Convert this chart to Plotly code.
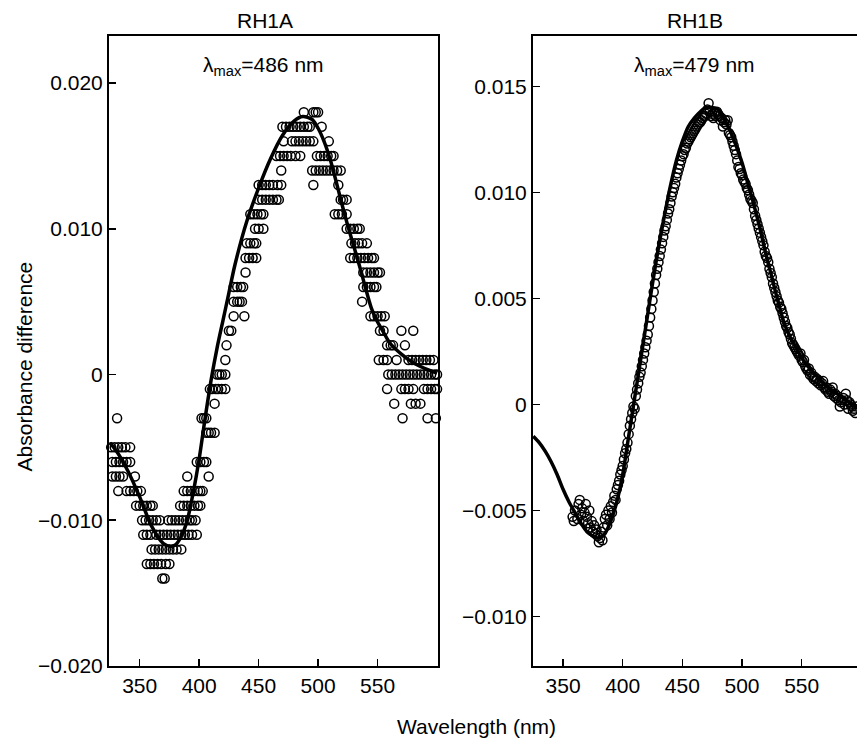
import plotly.graph_objects as go

# ---------------- RH1A : measured points (wavelength nm, absorbance difference) ----------------
rh1a_wl = [
    488, 496, 498, 500,
    470, 473, 476, 479, 482, 485, 488, 491, 493, 503,
    471, 478, 481, 484, 487, 490, 493, 496, 509,
    465, 468, 471, 474, 477, 481, 485, 499, 502, 505, 508, 511, 513,
    469, 495, 498, 501, 504, 507, 510, 513, 516, 519,
    450, 453, 456, 459, 462, 466, 469, 496, 517,
    450, 453, 456, 459, 462, 465, 467, 519, 521, 524,
    443, 446, 449, 452, 454, 514, 517, 520, 524,
    447, 450, 454, 524, 527, 530, 533, 535,
    440, 443, 446, 448, 528, 531, 534, 537, 541,
    439, 442, 445, 448, 527, 530, 533, 536, 539, 542, 545, 547,
    439, 538, 541, 544, 547, 550, 552,
    429, 432, 435, 437, 538, 541, 544, 547, 549,
    429, 432, 434, 436, 537,
    429, 438, 544, 547, 550, 553, 556,
    425, 427, 552, 555, 570, 580,
    423, 558, 561, 563, 573,
    422, 551, 555, 558, 566, 576, 579, 582, 585, 588, 591, 594, 597,
    415, 417, 419, 422, 559, 562, 565, 568, 571, 574, 577, 580, 583, 586, 589, 592, 595, 598, 600,
    409, 411, 414, 416, 419, 422, 558, 570, 573, 576, 580, 589, 592, 595, 598, 600,
    413, 564, 578, 582, 586,
    331, 402, 404, 406, 571, 592, 599,
    406, 408, 410, 413,
    326, 329, 332, 335, 338, 342,
    324, 327, 330, 333, 336, 339, 342, 398, 401, 404, 406,
    324, 327, 330, 333, 336, 346, 390, 408,
    332, 339, 342, 345, 348, 351, 387, 390, 393, 396, 399, 401, 403,
    347, 350, 353, 356, 359, 361, 384, 387, 390, 393, 396, 399, 401,
    352, 355, 358, 361, 364, 367, 374, 377, 380, 383, 386, 389, 392, 394, 397,
    353, 356, 359, 364, 367, 370, 373, 376, 379, 382, 385, 388, 391, 394, 398,
    360, 363, 366, 369, 372, 375, 378, 381, 385,
    356, 359, 362, 365, 368, 372, 375,
    369, 371,
]
rh1a_abs = [
    0.018, 0.018, 0.018, 0.018,
    0.017, 0.017, 0.017, 0.017, 0.017, 0.017, 0.017, 0.017, 0.017, 0.017,
    0.016, 0.016, 0.016, 0.016, 0.016, 0.016, 0.016, 0.016, 0.016,
    0.015, 0.015, 0.015, 0.015, 0.015, 0.015, 0.015, 0.015, 0.015, 0.015, 0.015, 0.015, 0.015,
    0.014, 0.014, 0.014, 0.014, 0.014, 0.014, 0.014, 0.014, 0.014, 0.014,
    0.013, 0.013, 0.013, 0.013, 0.013, 0.013, 0.013, 0.013, 0.013,
    0.012, 0.012, 0.012, 0.012, 0.012, 0.012, 0.012, 0.012, 0.012, 0.012,
    0.011, 0.011, 0.011, 0.011, 0.011, 0.011, 0.011, 0.011, 0.011,
    0.010, 0.010, 0.010, 0.010, 0.010, 0.010, 0.010, 0.010,
    0.009, 0.009, 0.009, 0.009, 0.009, 0.009, 0.009, 0.009, 0.009,
    0.008, 0.008, 0.008, 0.008, 0.008, 0.008, 0.008, 0.008, 0.008, 0.008, 0.008, 0.008,
    0.007, 0.007, 0.007, 0.007, 0.007, 0.007, 0.007,
    0.006, 0.006, 0.006, 0.006, 0.006, 0.006, 0.006, 0.006, 0.006,
    0.005, 0.005, 0.005, 0.005, 0.005,
    0.004, 0.004, 0.004, 0.004, 0.004, 0.004, 0.004,
    0.003, 0.003, 0.003, 0.003, 0.003, 0.003,
    0.002, 0.002, 0.002, 0.002, 0.002,
    0.001, 0.001, 0.001, 0.001, 0.001, 0.001, 0.001, 0.001, 0.001, 0.001, 0.001, 0.001, 0.001,
    0.0, 0.0, 0.0, 0.0, 0.0, 0.0, 0.0, 0.0, 0.0, 0.0, 0.0, 0.0, 0.0, 0.0, 0.0, 0.0, 0.0, 0.0, 0.0,
    -0.001, -0.001, -0.001, -0.001, -0.001, -0.001, -0.001, -0.001, -0.001, -0.001, -0.001, -0.001, -0.001, -0.001, -0.001, -0.001,
    -0.002, -0.002, -0.002, -0.002, -0.002,
    -0.003, -0.003, -0.003, -0.003, -0.003, -0.003, -0.003,
    -0.004, -0.004, -0.004, -0.004,
    -0.005, -0.005, -0.005, -0.005, -0.005, -0.005,
    -0.006, -0.006, -0.006, -0.006, -0.006, -0.006, -0.006, -0.006, -0.006, -0.006, -0.006,
    -0.007, -0.007, -0.007, -0.007, -0.007, -0.007, -0.007, -0.007,
    -0.008, -0.008, -0.008, -0.008, -0.008, -0.008, -0.008, -0.008, -0.008, -0.008, -0.008, -0.008, -0.008,
    -0.009, -0.009, -0.009, -0.009, -0.009, -0.009, -0.009, -0.009, -0.009, -0.009, -0.009, -0.009, -0.009,
    -0.010, -0.010, -0.010, -0.010, -0.010, -0.010, -0.010, -0.010, -0.010, -0.010, -0.010, -0.010, -0.010, -0.010, -0.010,
    -0.011, -0.011, -0.011, -0.011, -0.011, -0.011, -0.011, -0.011, -0.011, -0.011, -0.011, -0.011, -0.011, -0.011, -0.011,
    -0.012, -0.012, -0.012, -0.012, -0.012, -0.012, -0.012, -0.012, -0.012,
    -0.013, -0.013, -0.013, -0.013, -0.013, -0.013, -0.013,
    -0.014, -0.014,
]

# ---------------- RH1A : fitted template curve ----------------
rh1a_fit_wl = [325, 330, 340, 350, 360, 370, 376, 380, 385, 390, 395, 400, 405, 410,
               415, 420, 425, 430, 440, 450, 460, 470, 480, 487, 495, 500, 505, 510,
               515, 520, 525, 530, 535, 540, 545, 550, 555, 560, 570, 580, 590, 600]
rh1a_fit_abs = [-0.0047, -0.0052, -0.0066, -0.0084, -0.0104, -0.0116, -0.0118, -0.0117,
                -0.0111, -0.0100, -0.0081, -0.0058, -0.0030, -0.0004, 0.0018, 0.0037,
                0.0056, 0.0075, 0.0105, 0.0128, 0.0148, 0.0164, 0.0174, 0.0177, 0.0175,
                0.0169, 0.0160, 0.0148, 0.0133, 0.0117, 0.0102, 0.0088, 0.0074, 0.0059,
                0.0045, 0.0036, 0.0029, 0.0022, 0.0014, 0.0008, 0.0004, 0.0001]

# ---------------- RH1B : measured points ----------------
rh1b_wl = [
    358, 359, 360, 362, 363, 364, 365, 366, 367, 368, 369, 370, 371, 372, 373, 374,
    375, 376, 377, 378, 379, 380, 381, 382, 383, 384, 385, 386, 387, 388, 389, 390,
    391, 392, 393, 394, 395, 396, 397, 398, 399, 400, 401, 402, 403, 404, 405, 406,
    407, 408, 409, 410, 411, 412, 413, 414, 415, 416, 417, 418, 419, 420, 421, 422,
    423, 424, 425, 426, 427, 428, 429, 430, 431, 432, 433, 434, 435, 436, 437, 438,
    439, 440, 441, 442, 443, 444, 445, 446, 447, 448, 449, 450, 451, 452, 453, 454,
    455, 456, 457, 458, 459, 460, 461, 462, 463, 464, 465, 466, 467, 468, 469, 470,
    471, 472, 473, 474, 475, 476, 477, 478, 479, 480, 481, 482, 483, 484, 485, 486,
    487, 488, 489, 490, 491, 492, 493, 494, 495, 496, 497, 498, 499, 500, 501, 502,
    503, 504, 505, 506, 507, 508, 509, 510, 511, 512, 513, 514, 515, 516, 517, 518,
    519, 520, 521, 522, 523, 524, 525, 526, 527, 528, 529, 530, 531, 532, 533, 534,
    535, 536, 537, 538, 539, 540, 541, 542, 543, 544, 545, 546, 547, 548, 549, 550,
    551, 552, 553, 554, 555, 556, 557, 558, 559, 560, 561, 562, 563, 564, 565, 566,
    567, 568, 569, 570, 571, 572, 573, 574, 575, 576, 577, 578, 579, 580, 581, 582,
    583, 584, 585, 586, 587, 588, 589, 590, 591, 592, 593, 594, 595, 596, 597,
]
rh1b_abs = [
    -0.0053, -0.0055, -0.0050, -0.0054, -0.0047, -0.0045, -0.0052, -0.0049,
    -0.0055, -0.0051, -0.0047, -0.0053, -0.0056, -0.0050, -0.0058, -0.0055,
    -0.0060, -0.0057, -0.0061, -0.0059, -0.0062, -0.0065, -0.0063, -0.0060,
    -0.0064, -0.0058, -0.0054, -0.0052, -0.0057, -0.0050, -0.0054, -0.0048,
    -0.0051, -0.0046, -0.0043, -0.0045, -0.0040, -0.0038, -0.0036, -0.0033,
    -0.0031, -0.0029, -0.0026, -0.0023, -0.0021, -0.0018, -0.0014, -0.0010,
    -0.0007, -0.0004, -0.0001, -0.0002, 0.0004, 0.0007, 0.0010, 0.0013,
    0.0015, 0.0018, 0.0021, 0.0024, 0.0027, 0.0030, 0.0033, 0.0037,
    0.0041, 0.0045, 0.0049, 0.0053, 0.0057, 0.0061, 0.0064, 0.0067,
    0.0070, 0.0073, 0.0076, 0.0079, 0.0082, 0.0084, 0.0087, 0.0090,
    0.0092, 0.0095, 0.0098, 0.0100, 0.0102, 0.0104, 0.0107, 0.0109,
    0.0111, 0.0113, 0.0115, 0.0117, 0.0118, 0.0120, 0.0121, 0.0123,
    0.0124, 0.0125, 0.0126, 0.0127, 0.0128, 0.0129, 0.0130, 0.0131,
    0.0132, 0.0133, 0.0133, 0.0134, 0.0135, 0.0136, 0.0136, 0.0137,
    0.0139, 0.0142, 0.0138, 0.0136, 0.0137, 0.0135, 0.0138, 0.0136,
    0.0138, 0.0137, 0.0136, 0.0134, 0.0135, 0.0131, 0.0133, 0.0134,
    0.0132, 0.0134, 0.0128, 0.0127, 0.0126, 0.0124, 0.0122, 0.0120,
    0.0118, 0.0115, 0.0112, 0.0111, 0.0109, 0.0108, 0.0106, 0.0105,
    0.0104, 0.0102, 0.0101, 0.0099, 0.0097, 0.0096, 0.0095, 0.0092,
    0.0089, 0.0087, 0.0085, 0.0083, 0.0081, 0.0079, 0.0077, 0.0075,
    0.0072, 0.0070, 0.0069, 0.0067, 0.0064, 0.0062, 0.0060, 0.0057,
    0.0055, 0.0053, 0.0051, 0.0049, 0.0048, 0.0046, 0.0045, 0.0043,
    0.0041, 0.0039, 0.0037, 0.0036, 0.0034, 0.0033, 0.0031, 0.0029,
    0.0028, 0.0027, 0.0026, 0.0025, 0.0024, 0.0023, 0.0024, 0.0021,
    0.0020, 0.0021, 0.0018, 0.0017, 0.0016, 0.0017, 0.0014, 0.0015,
    0.0013, 0.0012, 0.0013, 0.0011, 0.0012, 0.0010, 0.0011, 0.0009,
    0.0010, 0.0011, 0.0008, 0.0007, 0.0008, 0.0006, 0.0005, 0.0007,
    0.0006, 0.0008, 0.0004, 0.0005, 0.0003, 0.0004, 0.0002, -0.0001,
    0.0001, 0.0002, 0.0003, 0.0000, 0.0005, 0.0002, -0.0002, 0.0001,
    0.0000, -0.0001, -0.0003, -0.0002, -0.0004, -0.0001, -0.0003,
]

# ---------------- RH1B : fitted template curve ----------------
rh1b_fit_wl = [325, 330, 335, 340, 345, 350, 355, 360, 365, 370, 375, 380, 385, 390,
               395, 400, 405, 410, 415, 420, 425, 430, 435, 440, 445, 450, 455, 460,
               465, 470, 475, 480, 485, 490, 495, 500, 505, 510, 515, 520, 525, 530,
               535, 540, 545, 550, 555, 560, 565, 570, 575, 580, 585, 590, 595, 600]
rh1b_fit_abs = [-0.0015, -0.0018, -0.0022, -0.0027, -0.0033, -0.0040, -0.0046, -0.0051,
                -0.0056, -0.0060, -0.0062, -0.0063, -0.0061, -0.0055, -0.0046, -0.0033,
                -0.0015, 0.0003, 0.0021, 0.0039, 0.0057, 0.0074, 0.0089, 0.0103, 0.0115,
                0.0124, 0.0131, 0.0135, 0.0138, 0.0140, 0.0140, 0.0139, 0.0135, 0.0129,
                0.0122, 0.0114, 0.0104, 0.0094, 0.0083, 0.0071, 0.0060, 0.0049, 0.0039,
                0.0032, 0.0027, 0.0022, 0.0018, 0.0015, 0.0012, 0.0009, 0.0007, 0.0005,
                0.0003, 0.0001, -0.0001, -0.0002]

# ---------------- tick labels ----------------
x_tickvals = [350, 400, 450, 500, 550]
x_ticktext = ["350", "400", "450", "500", "550"]
ya_tickvals = [0.020, 0.010, 0.0, -0.010, -0.020]
ya_ticktext = ["0.020", "0.010", "0", "\u22120.010", "\u22120.020"]
yb_tickvals = [0.015, 0.010, 0.005, 0.0, -0.005, -0.010]
yb_ticktext = ["0.015", "0.010", "0.005", "0", "\u22120.005", "\u22120.010"]

FONT = "Liberation Sans, Arial, Helvetica, sans-serif"
W, H = 857, 740
FS = 21

marker_style = dict(symbol="circle-open", size=9, color="black", line=dict(width=1.5, color="black"))
line_style = dict(color="black", width=3.5, shape="spline", smoothing=0.8)

fig = go.Figure()
fig.add_trace(go.Scatter(x=rh1a_wl, y=rh1a_abs, mode="markers", marker=marker_style,
                         xaxis="x", yaxis="y", cliponaxis=False, showlegend=False))
fig.add_trace(go.Scatter(x=rh1a_fit_wl, y=rh1a_fit_abs, mode="lines", line=line_style,
                         xaxis="x", yaxis="y", showlegend=False))
fig.add_trace(go.Scatter(x=rh1b_wl, y=rh1b_abs, mode="markers", marker=marker_style,
                         xaxis="x2", yaxis="y2", cliponaxis=False, showlegend=False))
fig.add_trace(go.Scatter(x=rh1b_fit_wl, y=rh1b_fit_abs, mode="lines", line=line_style,
                         xaxis="x2", yaxis="y2", showlegend=False))

axis_common = dict(showgrid=False, zeroline=False, showline=True, linecolor="black", linewidth=2,
                   ticks="inside", ticklen=7, tickwidth=1.5, tickcolor="black",
                   tickfont=dict(family=FONT, size=FS, color="black"))

ydom = [1 - 676 / H, 1 - 37 / H]

fig.update_layout(
    width=W, height=H, autosize=False,
    margin=dict(l=0, r=0, t=0, b=0),
    paper_bgcolor="white", plot_bgcolor="white",
    font=dict(family=FONT, size=FS, color="black"),
    hovermode=False,
    xaxis=dict(domain=[109 / W, 438 / W], range=[324.2, 600.8], anchor="y",
               tickvals=x_tickvals, ticktext=x_ticktext, mirror=True, **axis_common),
    yaxis=dict(domain=ydom, range=[-0.020, 0.0232], anchor="x",
               tickvals=ya_tickvals, ticktext=ya_ticktext, mirror=True, **axis_common),
    xaxis2=dict(domain=[533 / W, 1.0], range=[324.8, 596.4], anchor="y2",
                tickvals=x_tickvals, ticktext=x_ticktext, mirror=True, **axis_common),
    yaxis2=dict(domain=ydom, range=[-0.01233, 0.01735], anchor="x2",
                tickvals=yb_tickvals, ticktext=yb_ticktext, mirror=False, **axis_common),
)

ann_font = dict(family=FONT, size=FS, color="black")
annotations = [
    dict(text="RH1A", x=264.5 / W, y=1 - 20.5 / H),
    dict(text="RH1B", x=694.5 / W, y=1 - 20.5 / H),
    dict(text="\u03bb<sub>max</sub>=486 nm", x=263 / W, y=1 - 67 / H),
    dict(text="\u03bb<sub>max</sub>=479 nm", x=694 / W, y=1 - 67 / H),
    dict(text="Wavelength (nm)", x=476.7 / W, y=1 - 737 / H),
    dict(text="Absorbance difference", x=24 / W, y=1 - 372 / H, textangle=-90),
]
for a in annotations:
    fig.add_annotation(xref="paper", yref="paper", showarrow=False, xanchor="center",
                       yanchor="middle", font=ann_font, **a)

fig.write_html("out.html",
               config={"displayModeBar": False, "staticPlot": True},
               post_script="document.body.style.margin='0';document.body.style.overflow='hidden';")
